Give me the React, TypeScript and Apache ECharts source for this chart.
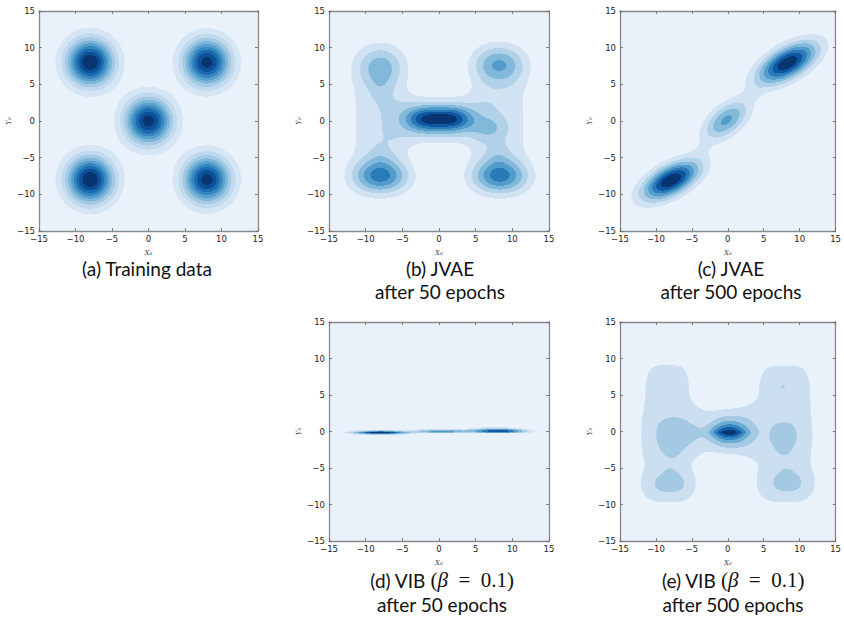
import React, { useEffect, useRef } from "react";
import * as echarts from "echarts";

// ---------- data ----------
const tickValues = [-15, -10, -5, 0, 5, 10, 15];
const axisMin = tickValues[0];
const axisMax = tickValues[tickValues.length - 1];

// mixture components
// columns: centerX, centerY, spreadX, spreadY, angleDeg, shapeX, shapeY, amplitude
const trainingComponents = [
  [-8, 8, 2.2, 2.2, 0, 2, 2, 1.0],
  [8, 8, 2.2, 2.2, 0, 2, 2, 0.95],
  [0, 0, 2.2, 2.2, 0, 2, 2, 0.95],
  [-8, -8, 2.2, 2.2, 0, 2, 2, 1.0],
  [8, -8, 2.2, 2.2, 0, 2, 2, 0.95],
];
const jvae50Components = [
  [0, 0.25, 3.4, 1.2, 0, 3, 2, 0.8],
  [0, 0.1, 6.0, 2.8, 0, 3, 3, 0.2],
  [6.8, -0.9, 1.6, 1.1, 0, 2, 2, 0.16],
  [-8.2, 0, 3.3, 7.5, 0, 3, 4, 0.18],
  [8.3, 0, 3.3, 7.5, 0, 3, 4, 0.18],
  [-8, 7.6, 2.2, 2.0, 0, 2, 2, 0.34],
  [-8, 4.8, 1.0, 1.6, 0, 2, 2, 0.08],
  [8.2, 7.8, 2.4, 1.8, 0, 2, 2, 0.43],
  [-8, -7.6, 2.6, 1.6, 0, 2, 2, 0.58],
  [-8, -5.0, 1.1, 1.5, 0, 2, 2, 0.08],
  [8.3, -7.6, 2.6, 1.6, 0, 2, 2, 0.58],
  [8.1, -4.8, 1.1, 1.5, 0, 2, 2, 0.1],
];
const jvae500Components = [
  [-7.9, -8.1, 2.95, 1.35, 28, 2, 2, 1.0],
  [8.3, 7.9, 3.1, 1.4, 29, 2, 2, 0.98],
  [-0.2, 0.1, 2.55, 1.35, 38, 2, 2, 0.53],
  [-3.7, -3.9, 0.9, 0.6, 45, 2, 2, 0.05],
  [3.8, 3.8, 0.9, 0.6, 45, 2, 2, 0.05],
];
const vib50Components = [
  [-8, -0.15, 2.5, 0.22, 0, 2, 2, 1.0],
  [0.3, 0.08, 2.6, 0.2, 0, 2, 2, 0.55],
  [8.2, 0.12, 2.5, 0.22, 0, 2, 2, 0.8],
  [7.2, 0.5, 2.4, 0.4, 0, 2, 2, 0.1],
];
const vib500Components = [
  [0.15, -0.1, 1.8, 0.85, 0, 2, 1.3, 0.86],
  [0, 0.1, 3.8, 2.9, 0, 3, 4, 0.17],
  [-8.4, -0.15, 4.2, 11.4, 0, 4, 6, 0.17],
  [7.9, -0.2, 4.9, 11.4, 0, 4, 6, 0.17],
  [-7.7, -0.3, 2.1, 2.15, 0, 2.2, 2.5, 0.22],
  [-7.9, -2.9, 1.0, 1.2, 0, 2, 2, 0.09],
  [7.85, -0.5, 1.6, 1.7, 0, 2.2, 2.5, 0.22],
  [7.8, -2.6, 0.8, 1.0, 0, 2, 2, 0.11],
  [-8.1, -7.2, 2.0, 1.13, 0, 2.2, 2.5, 0.22],
  [-8.0, -5.8, 0.8, 0.8, 0, 2, 2, 0.12],
  [8.3, -7.1, 1.85, 1.13, 0, 2.2, 2.5, 0.22],
  [8.2, -5.7, 0.8, 0.8, 0, 2, 2, 0.12],
  [-4.8, -0.2, 1.0, 0.8, 0, 2, 2, 0.07],
  [7.7, 6.2, 0.25, 0.25, 0, 2, 2, 0.2],
];
const panelComponents = [trainingComponents, jvae50Components, jvae500Components, vib50Components, vib500Components];
const levelCounts = [10, 8, 8, 8, 7];

const captionMain = ["(a) Training data", "(b) JVAE", "(c) JVAE", "(d) VIB ", "(e) VIB "];
const captionMath = ["", "", "", "0.1", "0.1"];
const captionSub = ["", "after 50 epochs", "after 500 epochs", "after 50 epochs", "after 500 epochs"];

// ---------- layout / style ----------
const GRIDS = [
  { left: 39, top: 11, width: 219, height: 220 },
  { left: 329, top: 11, width: 220, height: 220 },
  { left: 620, top: 11, width: 219, height: 220 },
  { left: 329, top: 322, width: 220, height: 219 },
  { left: 620, top: 322, width: 219, height: 219 },
];
const CAPTION_POS = [
  { x: 147, y1: 268, y2: 291 },
  { x: 440, y1: 268, y2: 291 },
  { x: 731, y1: 268, y2: 291 },
  { x: 442, y1: 580, y2: 604 },
  { x: 733, y1: 580, y2: 604 },
];
const BG = "#e9f1fa";
const STOPS: [number, string][] = [
  [0, "#e9f1fa"],
  [0.125, "#d4e4f3"],
  [0.25, "#bcd6ec"],
  [0.375, "#96c3df"],
  [0.5, "#68abd4"],
  [0.625, "#4190c5"],
  [0.75, "#2171b5"],
  [0.875, "#0b539d"],
  [1, "#08346f"],
];

function hexToRgb(h: string) {
  return [parseInt(h.slice(1, 3), 16), parseInt(h.slice(3, 5), 16), parseInt(h.slice(5, 7), 16)];
}
function blues(t: number) {
  for (let i = 0; i < STOPS.length - 1; i++) {
    const [t0, c0] = STOPS[i];
    const [t1, c1] = STOPS[i + 1];
    if (t <= t1 + 1e-9) {
      const f = (t - t0) / (t1 - t0);
      const a = hexToRgb(c0);
      const b = hexToRgb(c1);
      const r = a.map((v, k) => Math.round(v + (b[k] - v) * f));
      return `rgb(${r[0]},${r[1]},${r[2]})`;
    }
  }
  return STOPS[STOPS.length - 1][1];
}

const ROWS = 220;
const COLS = 480;

function buildRuns(comps: number[][], nLevels: number) {
  const span = axisMax - axisMin;
  const dx = span / COLS;
  const dy = span / ROWS;
  const pre = comps.map((c) => {
    const t = (c[4] * Math.PI) / 180;
    return { mx: c[0], my: c[1], sx: c[2], sy: c[3], ct: Math.cos(t), st: Math.sin(t), qx: c[5], qy: c[6], a: c[7] };
  });
  const vals = new Float64Array(ROWS * COLS);
  let max = 0;
  for (let r = 0; r < ROWS; r++) {
    const y = axisMin + (r + 0.5) * dy;
    for (let c = 0; c < COLS; c++) {
      const x = axisMin + (c + 0.5) * dx;
      let s = 0;
      for (const p of pre) {
        const ddx = x - p.mx;
        const ddy = y - p.my;
        const u = Math.abs((ddx * p.ct + ddy * p.st) / p.sx);
        const v = Math.abs((-ddx * p.st + ddy * p.ct) / p.sy);
        s += p.a * Math.exp(-0.5 * (Math.pow(u, p.qx) + Math.pow(v, p.qy)));
      }
      vals[r * COLS + c] = s;
      if (s > max) max = s;
    }
  }
  const runs: number[][] = [];
  for (let k = 1; k < nLevels; k++) {
    const thr = (k / nLevels) * max;
    for (let r = 0; r < ROWS; r++) {
      const y = axisMin + (r + 0.5) * dy;
      let start = -1;
      for (let c = 0; c <= COLS; c++) {
        const on = c < COLS && vals[r * COLS + c] >= thr;
        if (on && start < 0) start = c;
        if (!on && start >= 0) {
          runs.push([axisMin + start * dx, axisMin + c * dx, y, k]);
          start = -1;
        }
      }
    }
  }
  return { runs, dy };
}

const tickFmt = (v: number) => (v < 0 ? "\u2212" + Math.abs(v) : String(v));

export default function App() {
  const ref = useRef<HTMLDivElement>(null);
  useEffect(() => {
    if (!ref.current) return;
    const chart = echarts.init(ref.current, null, { renderer: "svg" });
    const xAxes: any[] = [];
    const yAxes: any[] = [];
    const series: any[] = [];
    const axisLine = { show: true, onZero: false, lineStyle: { color: "#8a8a8a", width: 1.3 } };
    const axisTick = { show: true, inside: true, length: 3, lineStyle: { color: "#666", width: 0.8 } };
    GRIDS.forEach((g, i) => {
      const common = { type: "value", min: axisMin, max: axisMax, interval: 5, gridIndex: i, splitLine: { show: false }, axisLine, axisTick, z: 10 };
      xAxes.push({
        ...common,
        position: "bottom",
        axisLabel: { show: true, formatter: tickFmt, fontSize: 8.5, color: "#222", fontFamily: "DejaVu Sans", margin: 3 },
        name: "X\u2080",
        nameLocation: "middle",
        nameGap: 18,
        nameTextStyle: { fontFamily: "DejaVu Serif", fontStyle: "italic", fontSize: 7, color: "#333" },
      });
      xAxes.push({ ...common, position: "top", axisLabel: { show: false } });
      yAxes.push({
        ...common,
        position: "left",
        axisLabel: { show: true, formatter: tickFmt, fontSize: 8.5, color: "#222", fontFamily: "DejaVu Sans", margin: 4 },
        name: "Y\u2080",
        nameLocation: "middle",
        nameGap: 27,
        nameRotate: 90,
        nameTextStyle: { fontFamily: "DejaVu Serif", fontStyle: "italic", fontSize: 7, color: "#333" },
      });
      yAxes.push({ ...common, position: "right", axisLabel: { show: false } });

      const n = levelCounts[i];
      const colors: string[] = [BG];
      for (let k = 1; k < n; k++) colors.push(blues(k / (n - 1)));
      const { runs, dy } = buildRuns(panelComponents[i], n);
      const half = dy / 2;
      series.push({
        type: "custom",
        xAxisIndex: 2 * i,
        yAxisIndex: 2 * i,
        clip: true,
        silent: true,
        progressive: 0,
        data: runs,
        renderItem: (_p: any, api: any) => {
          const a = api.coord([api.value(0), api.value(2) + half]);
          const b = api.coord([api.value(1), api.value(2) - half]);
          const y0 = Math.round(a[1]);
          let y1 = Math.round(b[1]);
          if (y1 <= y0) y1 = y0 + 1;
          return {
            type: "rect",
            shape: { x: a[0] - 0.15, y: y0, width: b[0] - a[0] + 0.3, height: y1 - y0 },
            style: { fill: colors[api.value(3)] },
          };
        },
      });
    });

    const graphics: any[] = [];
    CAPTION_POS.forEach((p, i) => {
      const main = captionMain[i];
      const math = captionMath[i];
      const text = math
        ? `{n|${main}}{m|(}{mi|\u03b2}{m|\u2002=\u2002${math})}`
        : `{n|${main}}`;
      graphics.push({
        type: "text",
        x: p.x,
        y: p.y1,
        style: {
          text,
          align: "center",
          verticalAlign: "middle",
          rich: {
            n: { fontFamily: "Lato", fontSize: 19, fill: "#111" },
            m: { fontFamily: "Liberation Serif", fontSize: 21, fill: "#111" },
            mi: { fontFamily: "Liberation Serif", fontStyle: "italic", fontSize: 21, fill: "#111" },
          },
        },
      });
      if (captionSub[i]) {
        graphics.push({
          type: "text",
          x: p.x,
          y: p.y2,
          style: { text: captionSub[i], align: "center", verticalAlign: "middle", fontFamily: "Lato", fontSize: 19, fill: "#111" },
        });
      }
    });

    chart.setOption({
      animation: false,
      backgroundColor: "#ffffff",
      grid: GRIDS.map((g) => ({ ...g, show: true, backgroundColor: BG, borderWidth: 0, containLabel: false })),
      xAxis: xAxes,
      yAxis: yAxes,
      series,
      graphic: graphics,
    });
    return () => chart.dispose();
  }, []);
  return <div ref={ref} style={{ position: "fixed", left: 0, top: 0, width: 844, height: 619 }} />;
}
